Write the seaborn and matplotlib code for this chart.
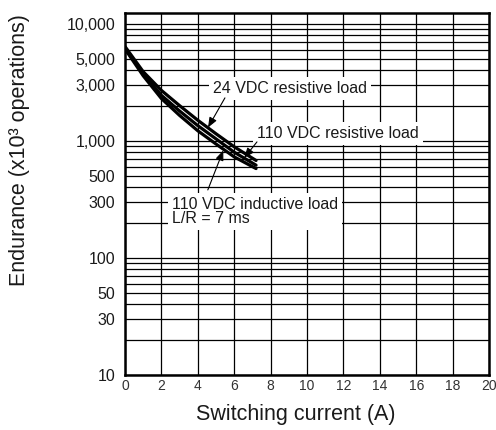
import matplotlib
matplotlib.use("Agg")
import matplotlib.pyplot as plt
from matplotlib.ticker import FixedLocator, LogLocator, NullFormatter, FixedFormatter
import numpy as np
import pandas as pd
import seaborn as sns

# Switching current (A)
current_a = [0, 1, 2, 3, 4, 5, 6, 7.2]
# Endurance (x10^3 operations) for each load type
res_24vdc = [6400, 3900, 2700, 2000, 1500, 1150, 890, 680]
res_110vdc = [6200, 3750, 2450, 1800, 1350, 1040, 800, 620]
ind_110vdc = [6100, 3600, 2300, 1650, 1220, 940, 730, 580]

load_names = ["24 VDC resistive load", "110 VDC resistive load", "110 VDC inductive load"]

y_ticks = [10, 30, 50, 100, 300, 500, 1000, 3000, 5000, 10000]
y_tick_labels = ["10", "30", "50", "100", "300", "500", "1,000", "3,000", "5,000", "10,000"]
x_ticks = [0, 2, 4, 6, 8, 10, 12, 14, 16, 18, 20]

sns.set_theme(style="white")
plt.rcParams["font.family"] = ["Liberation Sans", "DejaVu Sans"]

df = pd.DataFrame({
    "current": current_a * 3,
    "endurance": res_24vdc + res_110vdc + ind_110vdc,
    "load": np.repeat(load_names, len(current_a)),
})

fig = plt.figure(figsize=(4.96, 4.30), dpi=100)
ax = fig.add_axes([0.252, 0.128, 0.734, 0.842])

sns.lineplot(data=df, x="current", y="endurance", hue="load",
             palette=["black"] * 3, linewidth=2.3, legend=False,
             estimator=None, sort=False, ax=ax, zorder=4)

ax.set_yscale("log")
ax.set_xlim(0, 20)
ax.set_ylim(10, 12400)

ax.yaxis.set_major_locator(FixedLocator(y_ticks))
ax.yaxis.set_major_formatter(FixedFormatter(y_tick_labels))
ax.yaxis.set_minor_locator(LogLocator(base=10, subs=np.arange(1, 10), numticks=50))
ax.yaxis.set_minor_formatter(NullFormatter())
ax.xaxis.set_major_locator(FixedLocator(x_ticks))

ax.grid(True, which="both", axis="y", color="black", linewidth=0.9)
ax.grid(True, which="major", axis="x", color="black", linewidth=0.9)
ax.set_axisbelow(True)

ax.tick_params(axis="both", which="both", length=0)
ax.tick_params(axis="y", labelsize=11.5, pad=7, colors="#1a1a1a")
ax.tick_params(axis="x", labelsize=10, pad=3, colors="#333333")
for lab in ax.get_xticklabels():
    lab.set_family(["Liberation Sans Narrow", "Liberation Sans"])

for sp in ax.spines.values():
    sp.set_visible(True)
    sp.set_color("black")
    sp.set_linewidth(1.8)

ax.set_xlabel("")
ax.set_ylabel("")

box = dict(boxstyle="square,pad=0.25", facecolor="white", edgecolor="none")
txt_kw = dict(fontsize=11.5, color="#1a1a1a", ha="left", va="center", zorder=5, bbox=box)

ax.text(4.85, 2800, load_names[0], **txt_kw)
ax.text(7.25, 1150, load_names[1], **txt_kw)
ax.text(2.6, 250, "110 VDC inductive load\nL/R = 7 ms", linespacing=0.95, **txt_kw)

arrow = dict(arrowstyle="-|>,head_length=0.5,head_width=0.2", color="black", lw=0.8,
             shrinkA=0, shrinkB=0)
ax.annotate("", xy=(4.56, 1300), xytext=(5.49, 2330), arrowprops=arrow, zorder=6)
ax.annotate("", xy=(6.55, 715), xytext=(7.25, 980), arrowprops=arrow, zorder=6)
ax.annotate("", xy=(5.4, 830), xytext=(4.55, 381), arrowprops=arrow, zorder=6)

fig.text(0.597, 0.037, "Switching current (A)", fontsize=15.5, color="#1a1a1a",
         ha="center", va="center")
fig.text(0.040, 0.651, "Endurance (x10³ operations)", fontsize=15.5, color="#1a1a1a",
         ha="center", va="center", rotation=90)

fig.savefig("out.png", dpi=100)
